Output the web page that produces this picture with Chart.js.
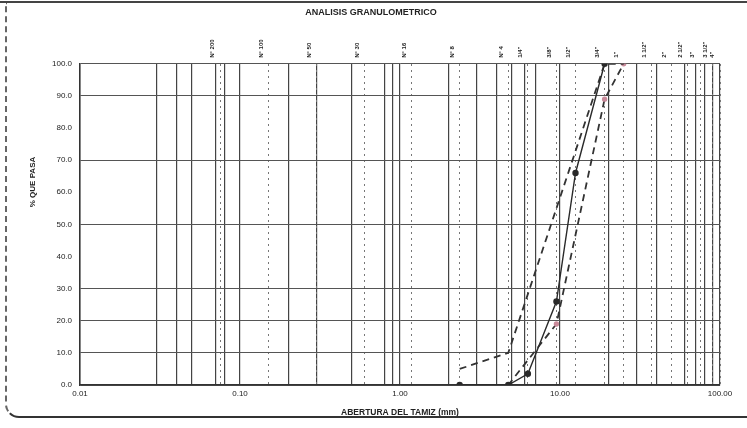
<!DOCTYPE html>
<html lang="es">
<head>
    <meta charset="UTF-8">
    <title>Analisis Granulometrico</title>
    <style>
        body {
            margin: 0;
            background: #fff;
            font-family: Arial, sans-serif;
        }

        #wrap {
            position: relative;
            width: 747px;
            height: 428px;
            overflow: hidden;
        }

        #frame {
            position: absolute;
            left: 5px;
            top: 2px;
            width: 780px;
            height: 414px;
            border-left: 2px dashed #666;
            border-bottom: 2px solid #333;
            border-bottom-left-radius: 14px;
            pointer-events: none;
        }

        #topline {
            position: absolute;
            left: 0;
            top: 1px;
            width: 747px;
            border-top: 2px solid #444;
        }
    </style>
</head>
<body>
    <div id="wrap">
        <canvas id="granChart" width="747" height="428"></canvas>
        <div id="frame"></div>
        <div id="topline"></div>
    </div>

    <script src="https://cdn.jsdelivr.net/npm/chart.js"></script>
    <script>
        // sieve openings (mm) and names shown on top axis
        const sieveSizes = [0.075, 0.15, 0.3, 0.6, 1.18, 2.36, 4.75, 6.3, 9.5, 12.5, 19, 25, 37.5, 50, 63, 75, 90, 100];
        const sieveLabels = ['N° 200', 'N° 100', 'N° 50', 'N° 30', 'N° 16', 'N° 8', 'N° 4', '1/4"', '3/8"', '1/2"', '3/4"', '1"', '1 1/2"', '2"', '2 1/2"', '3"', '3 1/2"', '4"'];

        // bottom axis decades
        const decadeTicks = [0.01, 0.1, 1, 10, 100];
        const decadeLabels = ['0.01', '0.10', '1.00', '10.00', '100.00'];

        // solid grid lines printed on the form (multipliers per decade)
        const gridMultipliers = [
            [1, 3, 4, 5, 7, 8],
            [1, 2, 3, 5, 8, 9],
            [1, 2, 3, 4, 5, 6, 7],
            [1, 2, 3, 4, 6, 7, 8, 9]
        ];

        // horizontal lines not printed on the form
        const hiddenRows = [40, 60, 80];

        // sample curve
        const sampleSizes = [2.36, 4.75, 6.3, 9.5, 12.5, 19];
        const samplePass = [0, 0, 3.5, 26, 66, 100];

        // specification band
        const upperSizes = [2.36, 4.75, 9.5, 19, 25];
        const upperPass = [5, 10, 55, 100, 100];
        const lowerSizes = [2.36, 4.75, 9.5, 19, 25];
        const lowerPass = [0, 0, 19, 89, 100];

        const toPoints = (xs, ys) => xs.map((x, i) => ({ x: x, y: ys[i] }));

        const gridValues = [];
        gridMultipliers.forEach((mults, k) => {
            mults.forEach(m => gridValues.push(parseFloat((m * decadeTicks[k]).toPrecision(3))));
        });
        gridValues.push(decadeTicks[decadeTicks.length - 1]);

        function decadeLabel(value) {
            for (let i = 0; i < decadeTicks.length; i++) {
                if (Math.abs(value / decadeTicks[i] - 1) < 1e-6) return decadeLabels[i];
            }
            return '';
        }

        // y axis caption sits higher than centre on the original form
        const yCaption = {
            id: 'yCaption',
            afterDraw(chart) {
                const c = chart.ctx;
                c.save();
                c.translate(33, 182);
                c.rotate(-Math.PI / 2);
                c.font = 'bold 8px Arial';
                c.fillStyle = '#222';
                c.textAlign = 'center';
                c.textBaseline = 'middle';
                c.fillText('% QUE PASA', 0, 0);
                c.restore();
            }
        };

        const ctx = document.getElementById('granChart').getContext('2d');

        new Chart(ctx, {
            type: 'line',
            data: {
                datasets: [
                    {
                        label: 'Muestra',
                        data: toPoints(sampleSizes, samplePass),
                        borderColor: '#2a2a2a',
                        borderWidth: 1.4,
                        pointRadius: 2.5,
                        pointBackgroundColor: '#2a2a2a',
                        pointBorderColor: '#2a2a2a',
                        tension: 0
                    },
                    {
                        label: 'Limite superior',
                        data: toPoints(upperSizes, upperPass),
                        borderColor: '#333',
                        borderWidth: 1.8,
                        borderDash: [7, 5],
                        pointRadius: 0,
                        tension: 0
                    },
                    {
                        label: 'Limite inferior',
                        data: toPoints(lowerSizes, lowerPass),
                        borderColor: '#333',
                        borderWidth: 1.8,
                        borderDash: [7, 5],
                        pointRadius: 1.8,
                        pointBackgroundColor: '#c98a9a',
                        pointBorderColor: '#c98a9a',
                        tension: 0
                    }
                ]
            },
            options: {
                responsive: false,
                animation: false,
                layout: {
                    padding: { left: 22, right: 27, top: 0, bottom: 8 }
                },
                plugins: {
                    legend: { display: false },
                    tooltip: { enabled: false },
                    title: {
                        display: true,
                        text: 'ANALISIS GRANULOMETRICO',
                        color: '#222',
                        font: { family: 'Arial', size: 9, weight: 'bold' },
                        padding: { top: 7, bottom: 3 }
                    }
                },
                scales: {
                    x: {
                        type: 'logarithmic',
                        position: 'bottom',
                        min: 0.01,
                        max: 100,
                        afterBuildTicks: (scale) => {
                            scale.ticks = gridValues.map(v => ({ value: v }));
                        },
                        afterFit: (scale) => { scale.height = 35; },
                        ticks: {
                            autoSkip: false,
                            maxRotation: 0,
                            padding: 4,
                            color: '#222',
                            font: { family: 'Arial', size: 8 },
                            callback: (value) => decadeLabel(value)
                        },
                        grid: {
                            color: '#444',
                            lineWidth: 1.2,
                            drawTicks: false
                        },
                        border: { color: '#333', width: 1.5 },
                        title: {
                            display: true,
                            text: 'ABERTURA DEL TAMIZ (mm)',
                            color: '#222',
                            font: { family: 'Arial', size: 8.5, weight: 'bold' },
                            padding: { top: 0, bottom: 2 }
                        }
                    },
                    x2: {
                        type: 'logarithmic',
                        position: 'top',
                        min: 0.01,
                        max: 100,
                        afterBuildTicks: (scale) => {
                            scale.ticks = sieveSizes.map(v => ({ value: v }));
                        },
                        afterFit: (scale) => { scale.height = 43; },
                        ticks: {
                            autoSkip: false,
                            minRotation: 90,
                            maxRotation: 90,
                            padding: 6,
                            color: '#222',
                            font: { family: 'Arial', size: 6, weight: 'bold' },
                            callback: (value, index) => sieveLabels[index]
                        },
                        grid: {
                            color: '#777',
                            lineWidth: 1,
                            drawTicks: false
                        },
                        border: { display: false, dash: [2, 4] }
                    },
                    y: {
                        min: 0,
                        max: 100,
                        afterFit: (scale) => { scale.width = 58; },
                        ticks: {
                            stepSize: 10,
                            padding: 8,
                            color: '#222',
                            font: { family: 'Arial', size: 8 },
                            callback: (value) => value.toFixed(1)
                        },
                        grid: {
                            color: (c) => hiddenRows.includes(c.tick && c.tick.value) ? 'rgba(0,0,0,0)' : '#555',
                            lineWidth: 1,
                            drawTicks: false
                        },
                        border: { color: '#333', width: 1.5 }
                    }
                }
            },
            plugins: [yCaption]
        });
    </script>
</body>
</html>
